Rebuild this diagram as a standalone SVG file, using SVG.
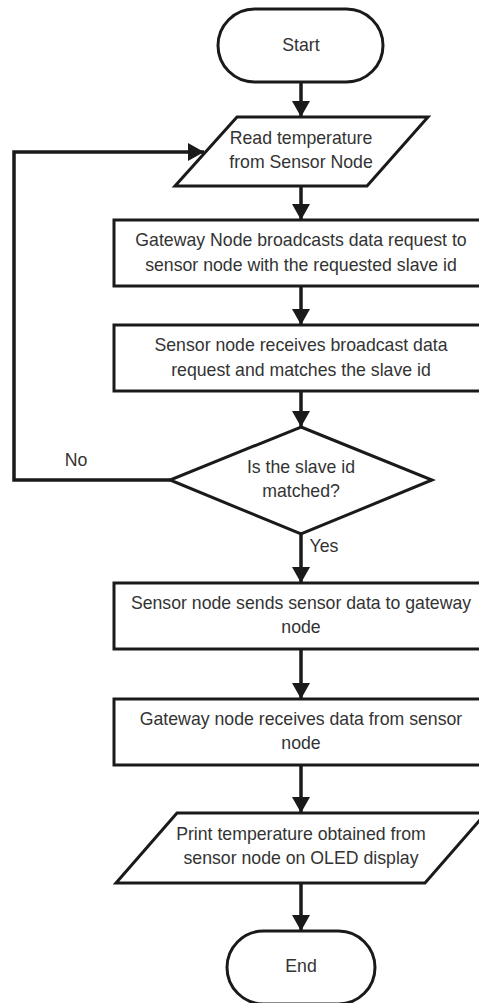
<svg xmlns="http://www.w3.org/2000/svg" width="479" height="1003" viewBox="0 0 479 1003">
<defs>
<marker id="arr" markerUnits="userSpaceOnUse" markerWidth="17" markerHeight="18" refX="16" refY="9" orient="auto">
<path d="M0,0 L16,9 L0,18 z" fill="#1a1a1a"/>
</marker>
<style>
.shape{fill:#ffffff;stroke:#1a1a1a;stroke-width:3;stroke-linejoin:miter}
.conn{fill:none;stroke:#1a1a1a;stroke-width:3.5}
text{font-family:"Liberation Sans",Arial,sans-serif;font-size:17.7px;fill:#333333;text-anchor:middle}
</style>
</defs>
<rect width="479" height="1003" fill="#ffffff"/>
<g id="connectors">
<line class="conn" x1="301" y1="82" x2="301" y2="117" marker-end="url(#arr)"/>
<line class="conn" x1="301" y1="186" x2="301" y2="220" marker-end="url(#arr)"/>
<line class="conn" x1="301" y1="286" x2="301" y2="325" marker-end="url(#arr)"/>
<line class="conn" x1="301" y1="391" x2="301" y2="427" marker-end="url(#arr)"/>
<line class="conn" x1="301" y1="534" x2="301" y2="583" marker-end="url(#arr)"/>
<line class="conn" x1="301" y1="649" x2="301" y2="699" marker-end="url(#arr)"/>
<line class="conn" x1="301" y1="765" x2="301" y2="813" marker-end="url(#arr)"/>
<line class="conn" x1="301" y1="883" x2="301" y2="931" marker-end="url(#arr)"/>
<polyline class="conn" points="170,480 14,480 14,152 204,152" marker-end="url(#arr)"/>
<text x="76" y="466">No</text>
<text x="324" y="552">Yes</text>
</g>
<g id="start">
<rect class="shape" x="218" y="9" width="165" height="73" rx="36.5" ry="36.5"/>
<text x="301" y="51">Start</text>
</g>
<g id="read">
<polygon class="shape" points="237,117 428,117 367,186 175,186"/>
<text x="301" y="144">Read temperature</text>
<text x="301" y="168">from Sensor Node</text>
</g>
<g id="broadcast">
<rect class="shape" x="114" y="220" width="374" height="66"/>
<text x="301" y="246">Gateway Node broadcasts data request to</text>
<text x="301" y="271">sensor node with the requested slave id</text>
</g>
<g id="receive">
<rect class="shape" x="114" y="325" width="374" height="66"/>
<text x="301" y="351">Sensor node receives broadcast data</text>
<text x="301" y="376">request and matches the slave id</text>
</g>
<g id="decision">
<polygon class="shape" points="301,427 432,480 301,534 170,480"/>
<text x="301" y="473">Is the slave id</text>
<text x="301" y="497">matched?</text>
</g>
<g id="sends">
<rect class="shape" x="114" y="583" width="374" height="66"/>
<text x="301" y="609">Sensor node sends sensor data to gateway</text>
<text x="301" y="633">node</text>
</g>
<g id="gwreceives">
<rect class="shape" x="114" y="699" width="374" height="66"/>
<text x="301" y="725">Gateway node receives data from sensor</text>
<text x="301" y="749">node</text>
</g>
<g id="print">
<polygon class="shape" points="177,813 486,813 425,883 116,883"/>
<text x="301" y="840">Print temperature obtained from</text>
<text x="301" y="864">sensor node on OLED display</text>
</g>
<g id="end">
<rect class="shape" x="227" y="931" width="148" height="73" rx="36.5" ry="36.5"/>
<text x="301" y="972">End</text>
</g>
</svg>
